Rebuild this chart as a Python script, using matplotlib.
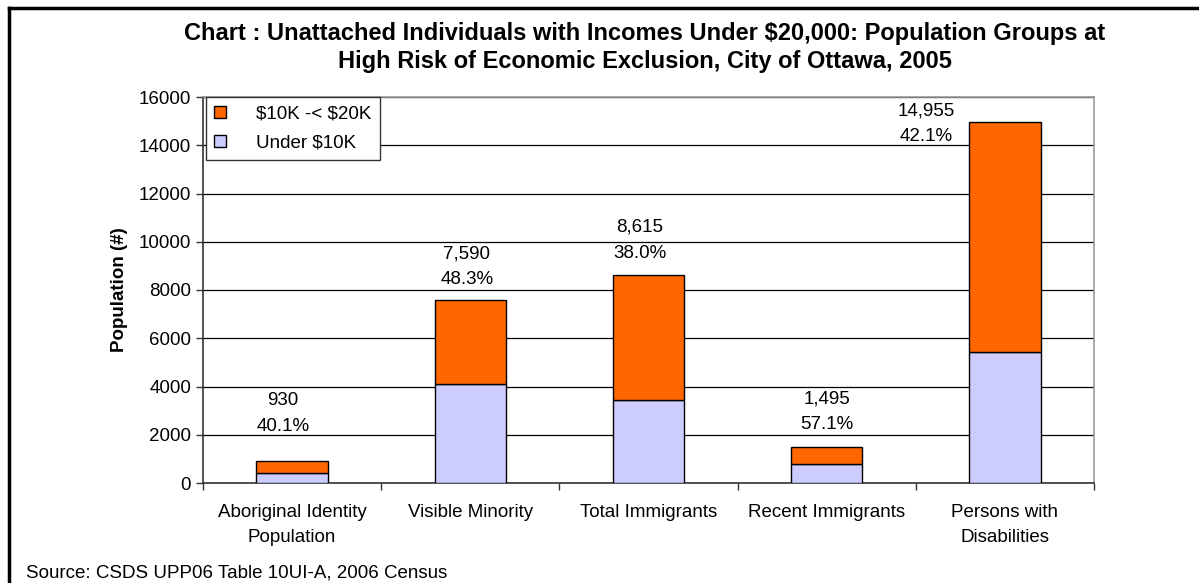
import matplotlib
matplotlib.use("Agg")
import matplotlib.pyplot as plt
from matplotlib.lines import Line2D

plt.rcParams['font.family'] = ['Liberation Sans', 'DejaVu Sans']

categories = ["Aboriginal Identity\nPopulation", "Visible Minority", "Total Immigrants",
              "Recent Immigrants", "Persons with\nDisabilities"]
totals = [930, 7590, 8615, 1495, 14955]
under_10k = [430, 4100, 3430, 800, 5410]
pct_labels = ["40.1%", "48.3%", "38.0%", "57.1%", "42.1%"]
range_10_20k = [t - u for t, u in zip(totals, under_10k)]
series_names = [r"\$10K -< \$20K", r"Under \$10K"]
yticks = [0, 2000, 4000, 6000, 8000, 10000, 12000, 14000, 16000]

# layout: label anchor positions (x in category units, y in data units)
label_x = [-0.05, 0.98, 1.95, 3.0, 3.56]
label_num_y = [3409, 9485, 10603, 3479, 15420]
label_pct_y = [2332, 8450, 9526, 2444, 14343]

FS = 13.5
W, H = 1199, 583
fig = plt.figure(figsize=(W / 100, H / 100), dpi=100)
ax = fig.add_axes([203 / W, 1 - 483 / H, (1094 - 203) / W, (483 - 97) / H])

x = list(range(len(categories)))
ax.bar(x, under_10k, width=0.4, color="#CCCCFF", edgecolor="black", linewidth=1.0,
       label=series_names[1], zorder=3)
ax.bar(x, range_10_20k, width=0.4, bottom=under_10k, color="#FF6600", edgecolor="black",
       linewidth=1.0, label=series_names[0], zorder=3)

ax.set_xlim(-0.5, len(categories) - 0.5)
ax.set_ylim(0, 16000)
ax.set_yticks(yticks)
ax.set_yticklabels([str(v) for v in yticks], fontsize=FS)
ax.yaxis.grid(True, color="black", linewidth=0.9, zorder=0)
ax.set_axisbelow(True)

ax.set_xticks(x)
ax.set_xticklabels(categories, fontsize=FS, linespacing=1.6)
ax.tick_params(axis='x', which='major', length=0, pad=15)
ax.set_xticks([i - 0.5 for i in range(len(categories) + 1)], minor=True)
ax.tick_params(axis='x', which='minor', length=5, width=1, color="#333333", direction='out')
ax.tick_params(axis='y', length=5, width=1, color="#333333", direction='out', pad=3.5)

for side in ["top", "right"]:
    ax.spines[side].set_color("#999999")
    ax.spines[side].set_linewidth(1.2)
for side in ["left", "bottom"]:
    ax.spines[side].set_color("#333333")
    ax.spines[side].set_linewidth(1.2)

ax.set_ylabel("Population (#)", fontsize=FS, fontweight="bold", labelpad=8)

for i in range(len(categories)):
    ax.text(label_x[i], label_num_y[i], f"{totals[i]:,}", ha="center", va="center", fontsize=FS)
    ax.text(label_x[i], label_pct_y[i], pct_labels[i], ha="center", va="center", fontsize=FS)

handles, labels = ax.get_legend_handles_labels()
handles = handles[::-1]
labels = labels[::-1]
leg = ax.legend(handles, labels, loc="upper left", bbox_to_anchor=(206 / W, 1 - 97 / H),
                bbox_transform=fig.transFigure, fontsize=FS,
                frameon=True, fancybox=False, edgecolor="#333333", framealpha=1,
                handlelength=0.6, handleheight=0.6, handletextpad=1.6, borderpad=0.45,
                labelspacing=0.65, borderaxespad=0.0)
leg.get_frame().set_linewidth(1.0)
for h in leg.legend_handles:
    h.set_edgecolor("black")
    h.set_linewidth(1.0)

fig.text(645 / W, 1 - 47.5 / H,
         "Chart : Unattached Individuals with Incomes Under \\$20,000: Population Groups at\n"
         "High Risk of Economic Exclusion, City of Ottawa, 2005",
         ha="center", va="center", fontsize=17, fontweight="bold", linespacing=1.26)

fig.text(26 / W, 1 - 573 / H, "Source: CSDS UPP06 Table 10UI-A, 2006 Census",
         ha="left", va="center", fontsize=FS)

fig.add_artist(Line2D([9 / W, 9 / W], [0, 1 - 8 / H], transform=fig.transFigure,
                      color="black", linewidth=2.5))
fig.add_artist(Line2D([9 / W, 1], [1 - 8 / H, 1 - 8 / H], transform=fig.transFigure,
                      color="black", linewidth=2.5))

fig.savefig("out.png", dpi=100)
